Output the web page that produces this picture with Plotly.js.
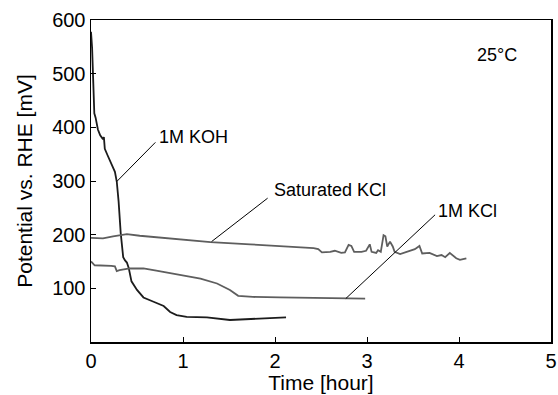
<!DOCTYPE html>
<html>
<head>
<meta charset="utf-8">
<script src="https://cdn.plot.ly/plotly-3.0.1.min.js"></script>
<style>html,body{margin:0;padding:0;background:#fff;}#chart{width:558px;height:395px;}</style>
</head>
<body>
<div id="chart"></div>
<script>
// 1M KOH
var kohTime = [0, 0.006, 0.012, 0.025, 0.036, 0.05, 0.075, 0.1, 0.13, 0.14, 0.15, 0.18, 0.22, 0.26, 0.28, 0.30, 0.323, 0.35, 0.37, 0.39, 0.41, 0.44, 0.5, 0.57, 0.68, 0.79, 0.86, 0.93, 1.04, 1.26, 1.51, 1.76, 2.05, 2.12];
var kohPot  = [578, 560, 548, 482, 426, 418, 396, 385, 378, 382, 360, 348, 333, 317, 299, 262, 203, 158, 152, 148, 138, 113, 97, 83, 75, 67, 56, 50, 47, 46, 41, 43, 46, 46];
// Saturated KCl
var satTime = [0, 0.13, 0.24, 0.39, 0.53, 0.82, 1.11, 1.3, 1.73, 2.05, 2.42, 2.47, 2.51, 2.6, 2.65, 2.72, 2.76, 2.8, 2.83, 2.86, 2.94, 2.99, 3.03, 3.05, 3.1, 3.12, 3.15, 3.18, 3.2, 3.22, 3.25, 3.28, 3.3, 3.36, 3.43, 3.52, 3.57, 3.6, 3.68, 3.76, 3.81, 3.85, 3.9, 3.93, 3.97, 4.01, 4.08];
var satPot  = [194, 193, 197, 201, 198, 193, 188, 186, 182, 179, 175, 173, 167, 168, 170, 166, 167, 181, 179, 168, 168, 170, 182, 168, 166, 171, 168, 199, 197, 178, 187, 178, 168, 164, 168, 173, 179, 165, 166, 160, 162, 158, 166, 162, 156, 153, 156];
// 1M KCl
var kclTime = [0, 0.04, 0.22, 0.26, 0.28, 0.31, 0.42, 0.57, 0.71, 0.9, 1.0, 1.19, 1.37, 1.51, 1.6, 1.76, 2.05, 2.78, 2.98];
var kclPot  = [150, 143, 142, 141, 132, 134, 137, 137, 133, 127, 124, 118, 109, 97, 86, 84, 83, 81, 81];

var xTicks = [0, 1, 2, 3, 4, 5];
var yTicks = [100, 200, 300, 400, 500, 600];

var fam = 'Liberation Sans, Arial, sans-serif';
var tickFont = {family: fam, size: 20, color: '#000'};
var titleFont = {family: fam, size: 21, color: '#000'};
var noteFont = {family: fam, size: 18, color: '#000'};

var traces = [
  {x: kohTime, y: kohPot, mode: 'lines', line: {color: '#1c1c1c', width: 1.8}, name: '1M KOH'},
  {x: satTime, y: satPot, mode: 'lines', line: {color: '#5e5e5e', width: 1.8}, name: 'Saturated KCl'},
  {x: kclTime, y: kclPot, mode: 'lines', line: {color: '#5e5e5e', width: 1.8}, name: '1M KCl'}
];

var leader = {type: 'line', xref: 'x', yref: 'y', line: {color: '#000', width: 1}};
var layout = {
  width: 558, height: 395,
  margin: {l: 91, r: 7, t: 20, b: 53},
  paper_bgcolor: '#fff', plot_bgcolor: '#fff',
  showlegend: false,
  font: tickFont,
  xaxis: {
    range: [0, 5], tickvals: xTicks, ticktext: xTicks.map(String),
    ticks: 'inside', ticklen: 5, tickcolor: '#000', tickwidth: 1,
    showline: true, linecolor: '#000', linewidth: 1.5, mirror: true,
    showgrid: false, zeroline: false,
    tickfont: tickFont,
    title: {text: 'Time [hour]', font: titleFont, standoff: 0}
  },
  yaxis: {
    range: [0, 600], tickvals: yTicks, ticktext: yTicks.map(String),
    ticks: 'inside', ticklen: 5, tickcolor: '#000', tickwidth: 1,
    showline: true, linecolor: '#000', linewidth: 1.5, mirror: true,
    showgrid: false, zeroline: false,
    tickfont: tickFont,
    title: {text: 'Potential vs. RHE [mV]', font: titleFont, standoff: 14}
  },
  shapes: [
    Object.assign({x0: 0.28, y0: 299, x1: 0.70, y1: 372}, leader),
    Object.assign({x0: 1.31, y0: 187, x1: 1.92, y1: 268}, leader),
    Object.assign({x0: 2.77, y0: 81, x1: 3.74, y1: 237}, leader)
  ],
  annotations: [
    {x: 0.72, y: 382, xref: 'x', yref: 'y', text: '1M KOH', showarrow: false, xanchor: 'left', font: noteFont},
    {x: 1.97, y: 283, xref: 'x', yref: 'y', text: 'Saturated KCl', showarrow: false, xanchor: 'left', font: noteFont},
    {x: 3.75, y: 245, xref: 'x', yref: 'y', text: '1M KCl', showarrow: false, xanchor: 'left', font: noteFont},
    {x: 4.41, y: 535, xref: 'x', yref: 'y', text: '25°C', showarrow: false, font: noteFont}
  ]
};

Plotly.newPlot('chart', traces, layout, {displayModeBar: false, staticPlot: true});
</script>
</body>
</html>
